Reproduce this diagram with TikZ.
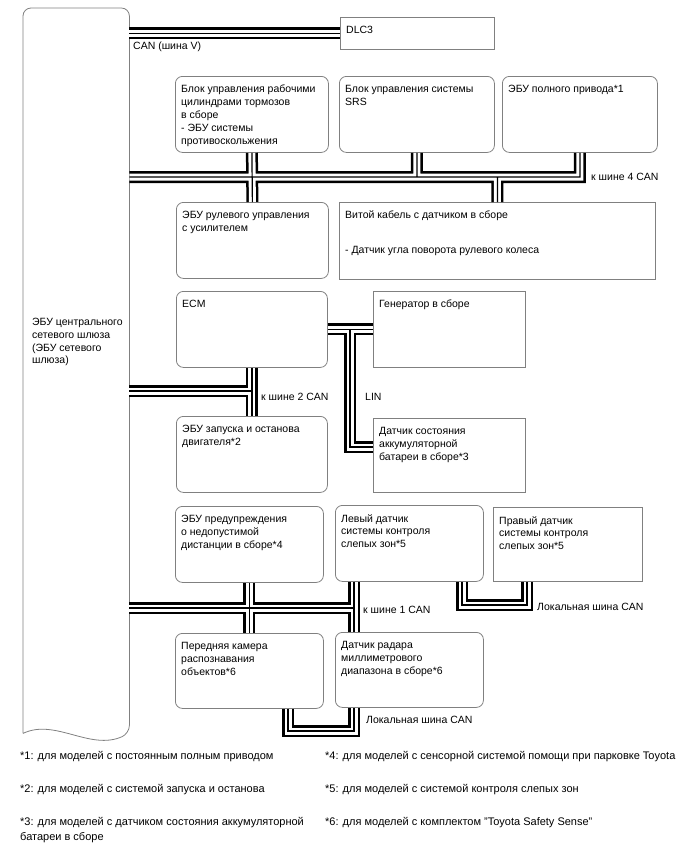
\documentclass[tikz,border=0pt]{standalone}
\usepackage{fontspec}
\setmainfont{Liberation Sans}
\definecolor{boxgray}{RGB}{128,128,128}

\tikzset{
  rbox/.style={draw=boxgray, line width=0.8pt, rounded corners=7pt, anchor=north west, inner sep=0pt},
  sbox/.style={draw=boxgray, line width=0.8pt, anchor=north west, inner sep=0pt},
  boxtext/.style={anchor=north west, inner sep=0pt, align=left, font=\fontsize{10.5}{12.8}\selectfont},
  buslabel/.style={anchor=west, inner sep=0pt, font=\fontsize{10.5}{12.8}\selectfont},
  note/.style={anchor=west, inner sep=0pt, align=left, font=\fontsize{11}{15}\selectfont},
  bus/.style={draw=white, line width=7pt,
    preaction={draw=black, line width=12pt},
    postaction={draw=black, line width=1.2pt}},
}

\begin{document}
\begin{tikzpicture}[x=1pt, y=-1pt]
  \useasboundingbox (0,0) rectangle (688,852);

  % central gateway ECU
  \node[minimum width=106pt, minimum height=725pt, anchor=north west, inner sep=0pt] (gw) at (23,8) {};
  \draw[draw=boxgray, line width=0.8pt] (gw.south west) [rounded corners=8pt] -- (gw.north west)
    -- (gw.north east) -- (gw.south east) [sharp corners] .. controls (90,751) and (55,718) .. (gw.south west);
  \node[boxtext] (gw-t) at (32,318) {ЭБУ центрального\\сетевого шлюза\\(ЭБУ сетевого\\шлюза)};

  % units
  \foreach \n/\s/\x/\y/\w/\h/\t in {
      dlc/sbox/340/17/154/32/{DLC3},
      brake/rbox/175/76/153/76/{Блок управления рабочими\\цилиндрами тормозов\\в сборе\\- ЭБУ системы\\противоскольжения},
      srs/rbox/339/76/155/76/{Блок управления системы\\SRS},
      wd/rbox/502/76/155/76/{ЭБУ полного привода*1},
      steer/rbox/176/202/152/76/{ЭБУ рулевого управления\\с усилителем},
      spiral/sbox/339/202/316/77/{Витой кабель с датчиком в сборе\\[22pt]- Датчик угла поворота рулевого колеса},
      ecm/rbox/176/291/151/76/{ECM},
      gen/sbox/373/291/152/76/{Генератор в сборе},
      start/rbox/176/416/151/76/{ЭБУ запуска и останова\\двигателя*2},
      batt/sbox/373/418/152/74/{Датчик состояния\\аккумуляторной\\батареи в сборе*3},
      warn/rbox/175/506/148/76/{ЭБУ предупреждения\\о недопустимой\\дистанции в сборе*4},
      lbsm/rbox/335/505/148/76/{Левый датчик\\системы контроля\\слепых зон*5},
      rbsm/sbox/493/507/149/74/{Правый датчик\\системы контроля\\слепых зон*5},
      cam/rbox/175/633/148/75/{Передняя камера\\распознавания\\объектов*6},
      radar/rbox/335/632/148/75/{Датчик радара\\миллиметрового\\диапазона в сборе*6}} {
    \node[\s, minimum width=\w pt, minimum height=\h pt] (\n) at (\x,\y) {};
    \node[boxtext] (\n-t) at ([xshift=6pt, yshift=-9pt]\n.north west) {\t};
  }

  % buses
  \coordinate (t4) at (wd.south |- 0,177);
  \coordinate (t2) at (ecm.south |- 0,391);
  \coordinate (tl) at (350,447);
  \coordinate (t1) at (354,608);
  \coordinate (l1a) at (462,605);
  \coordinate (l1b) at (527,605);
  \coordinate (l2a) at (288,731);
  \coordinate (l2b) at (354,731);

  \draw[bus] (gw.east |- dlc.west) -- (dlc.west);
  \draw[bus] (gw.east |- t4) -- (t4) -- (wd.south)
    (brake.south) -- (steer.north)
    (srs.south) -- (srs.south |- t4)
    (spiral.north) -- (spiral.north |- t4);
  \draw[bus] (gw.east |- t2) -- (t2) (ecm.south) -- (start.north);
  \draw[bus] (ecm.east) -- (gen.west) (ecm.east -| tl) -- (tl) -- (tl -| batt.west);
  \draw[bus] (gw.east |- t1) -- (t1) (t1 |- lbsm.south) -- (t1 |- radar.north)
    (warn.south) -- (cam.north);
  \draw[bus] (l1a |- lbsm.south) -- (l1a) -- (l1b) -- (l1b |- rbsm.south);
  \draw[bus] (l2a |- cam.south) -- (l2a) -- (l2b) -- (l2b |- radar.south);

  % bus labels
  \node[buslabel] (canv) at (133,47) {CAN (шина V)};
  \node[buslabel] (can4) at (591,177) {к шине 4 CAN};
  \node[buslabel] (can2) at (261,397) {к шине 2 CAN};
  \node[buslabel] (lin) at (365,397) {LIN};
  \node[buslabel] (can1) at (363,610) {к шине 1 CAN};
  \node[buslabel] (loc1) at (537,607) {Локальная шина CAN};
  \node[buslabel] (loc2) at (366,720) {Локальная шина CAN};

  % footnotes
  \node[note] (fn1) at (20,757) {*1: для моделей с постоянным полным приводом};
  \node[note] (fn2) at (20,790) {*2: для моделей с системой запуска и останова};
  \node[note, anchor=north west] (fn3) at (20,817) {*3: для моделей с датчиком состояния аккумуляторной\\батареи в сборе};
  \node[note] (fn4) at (325,757) {*4: для моделей с сенсорной системой помощи при парковке Toyota};
  \node[note] (fn5) at (325,790) {*5: для моделей с системой контроля слепых зон};
  \node[note, anchor=north west] (fn6) at (325,817) {*6: для моделей с комплектом "Toyota Safety Sense"};
\end{tikzpicture}
\end{document}
